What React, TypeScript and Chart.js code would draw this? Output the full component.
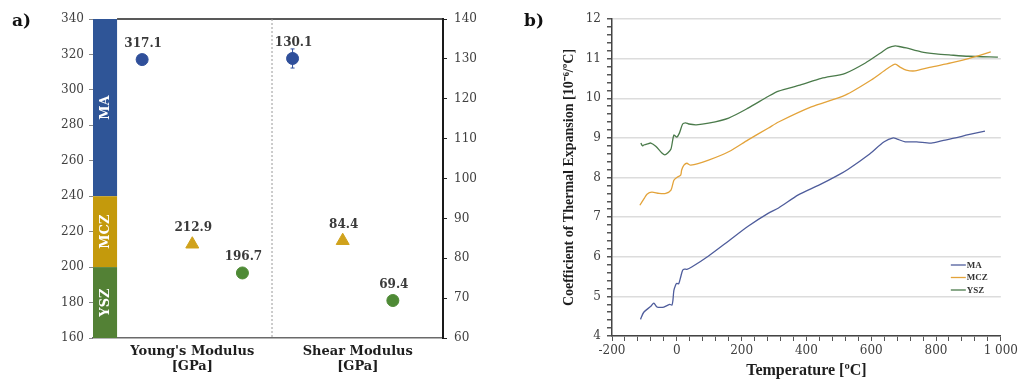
import React, { useEffect, useRef } from 'react';
import { Chart, registerables } from 'chart.js';

Chart.register(...registerables);

// ---------- Panel a data ----------
const materials = ['MA', 'MCZ', 'YSZ'];
const bandColors = ['#2F5597', '#C49A0C', '#538135'];
const markerColors = ['#2F4F9A', '#D0A21C', '#4E8A35'];
const bandFrom = [240, 200, 160];
const bandTo = [340, 240, 200];
const youngValues = [317.1, 212.9, 196.7];
const shearValues = [130.1, 84.4, 69.4];
const youngErr = [0, 0, 0];
const shearErr = [2.4, 0, 0];
const youngPos = [0.5, 1.5, 2.5];
const shearPos = [3.5, 4.5, 5.5];
const dividerPos = 3.09;
const groupLabelPos = [1.5, 4.8];
const groupLabels = [["Young's Modulus", '[GPa]'], ['Shear Modulus', '[GPa]']];
const pointStyles = ['circle', 'triangle', 'circle'];
const pointSizes = [6, 7.5, 6];

// ---------- Panel b data ----------
const maT = [-112, -102, -80, -71, -61, -50, -40, -22, -15, -12, -9, -3, 0, 6, 12, 18, 24, 31, 46, 98, 160, 220, 283, 314, 375, 437, 498, 529, 591, 640, 668, 680, 705, 740, 785, 820, 860, 900, 951];
const maY = [4.42, 4.6, 4.75, 4.83, 4.73, 4.72, 4.73, 4.8, 4.78, 4.9, 5.15, 5.3, 5.33, 5.32, 5.49, 5.66, 5.69, 5.68, 5.74, 6.02, 6.4, 6.77, 7.1, 7.23, 7.56, 7.8, 8.06, 8.21, 8.57, 8.9, 9.0, 8.97, 8.9, 8.9, 8.87, 8.93, 9.0, 9.08, 9.17];
const mczT = [-114, -100, -92, -77, -55, -34, -18, -9, 0, 12, 15, 22, 31, 43, 98, 160, 220, 283, 314, 415, 520, 600, 650, 674, 690, 708, 735, 780, 846, 900, 969];
const mczY = [7.3, 7.48, 7.58, 7.63, 7.6, 7.6, 7.68, 7.93, 8.0, 8.06, 8.19, 8.31, 8.36, 8.31, 8.44, 8.65, 8.95, 9.25, 9.4, 9.78, 10.08, 10.46, 10.75, 10.86, 10.78, 10.71, 10.69, 10.78, 10.89, 11.0, 11.17];
const yszT = [-111, -106, -102, -90, -80, -65, -46, -37, -28, -18, -9, 0, 8, 18, 27, 37, 60, 98, 160, 220, 283, 314, 380, 446, 520, 582, 630, 652, 674, 690, 708, 754, 800, 846, 900, 991];
const yszY = [8.87, 8.8, 8.82, 8.85, 8.87, 8.79, 8.62, 8.57, 8.62, 8.72, 9.07, 9.02, 9.12, 9.35, 9.38, 9.35, 9.33, 9.37, 9.5, 9.75, 10.05, 10.18, 10.33, 10.5, 10.63, 10.89, 11.15, 11.27, 11.32, 11.3, 11.27, 11.17, 11.12, 11.09, 11.06, 11.04];
const seriesNames = ['MA', 'MCZ', 'YSZ'];
const lineColors = ['#4F5D9C', '#E3A33A', '#4B7B4B'];
const xMajor = [-200, 0, 200, 400, 600, 800, 1000];
const xMajorLabels = ['-200', '0', '200', '400', '600', '800', '1 000'];
const yMajor = [4, 5, 6, 7, 8, 9, 10, 11, 12];

const SERIF = "'DejaVu Serif', serif";
const SERIF2 = "'Liberation Serif', serif";

const panelAPlugin = {
  id: 'panelA',
  beforeDatasetsDraw(chart: any) {
    const { ctx, chartArea, scales } = chart;
    const xs = scales.x, ys = scales.y, ys2 = scales.y2;
    const x0 = xs.getPixelForValue(xs.min);
    const x1 = xs.getPixelForValue(0);
    ctx.save();
    for (let i = 0; i < materials.length; i++) {
      const yTop = ys.getPixelForValue(bandTo[i]);
      const yBot = ys.getPixelForValue(bandFrom[i]);
      ctx.fillStyle = bandColors[i];
      ctx.fillRect(x0, yTop, x1 - x0, yBot - yTop);
      ctx.save();
      ctx.translate((x0 + x1) / 2 + 1, (yTop + yBot) / 2);
      ctx.rotate(-Math.PI / 2);
      ctx.fillStyle = '#ffffff';
      ctx.font = `bold 13px ${SERIF}`;
      ctx.textAlign = 'center';
      ctx.textBaseline = 'middle';
      ctx.fillText(materials[i], 0, 0);
      ctx.restore();
    }
    ctx.strokeStyle = '#222';
    ctx.lineWidth = 1.5;
    ctx.beginPath();
    ctx.moveTo(x1, chartArea.top);
    ctx.lineTo(chartArea.right, chartArea.top);
    ctx.stroke();
    const xd = xs.getPixelForValue(dividerPos);
    ctx.strokeStyle = '#9a9a9a';
    ctx.lineWidth = 1;
    ctx.setLineDash([2, 2]);
    ctx.beginPath();
    ctx.moveTo(xd, chartArea.top);
    ctx.lineTo(xd, chartArea.bottom);
    ctx.stroke();
    ctx.setLineDash([]);
    const drawErr = (pos: number[], vals: number[], errs: number[], scale: any) => {
      for (let i = 0; i < vals.length; i++) {
        if (!errs[i]) continue;
        const px = xs.getPixelForValue(pos[i]);
        const yA = scale.getPixelForValue(vals[i] + errs[i]);
        const yB = scale.getPixelForValue(vals[i] - errs[i]);
        ctx.strokeStyle = markerColors[i];
        ctx.lineWidth = 1;
        ctx.beginPath();
        ctx.moveTo(px, yA); ctx.lineTo(px, yB);
        ctx.moveTo(px - 2, yA); ctx.lineTo(px + 2, yA);
        ctx.moveTo(px - 2, yB); ctx.lineTo(px + 2, yB);
        ctx.stroke();
      }
    };
    drawErr(youngPos, youngValues, youngErr, ys);
    drawErr(shearPos, shearValues, shearErr, ys2);
    ctx.restore();
  },
  afterDatasetsDraw(chart: any) {
    const { ctx, scales } = chart;
    const xs = scales.x;
    ctx.save();
    ctx.font = `bold 12px ${SERIF}`;
    ctx.fillStyle = '#3a3a3a';
    ctx.textAlign = 'center';
    ctx.textBaseline = 'middle';
    const draw = (pos: number[], vals: number[], scale: any) => {
      for (let i = 0; i < vals.length; i++) {
        const px = xs.getPixelForValue(pos[i]);
        const py = scale.getPixelForValue(vals[i]);
        ctx.fillText(vals[i].toFixed(1), px + 1, py - 16);
      }
    };
    draw(youngPos, youngValues, scales.y);
    draw(shearPos, shearValues, scales.y2);
    ctx.restore();
  },
};

const legendPlugin = {
  id: 'cteLegend',
  afterDatasetsDraw(chart: any) {
    const { ctx, chartArea } = chart;
    ctx.save();
    ctx.font = `bold 9px ${SERIF2}`;
    ctx.textBaseline = 'middle';
    ctx.textAlign = 'left';
    chart.data.datasets.forEach((ds: any, i: number) => {
      const y = chartArea.bottom - 71 + i * 12.5;
      const xl = chartArea.right - 50;
      ctx.strokeStyle = ds.borderColor;
      ctx.lineWidth = 1.3;
      ctx.beginPath();
      ctx.moveTo(xl, y);
      ctx.lineTo(xl + 15, y);
      ctx.stroke();
      ctx.fillStyle = '#333';
      ctx.fillText(ds.label, xl + 16, y + 0.5);
    });
    ctx.restore();
  },
};

const isInt = (v: number) => Math.abs(v - Math.round(v)) < 1e-6;

export default function App() {
  const refA = useRef<HTMLCanvasElement>(null);
  const refB = useRef<HTMLCanvasElement>(null);

  useEffect(() => {
    const tickFont = { family: SERIF, size: 12 };
    const pointDs = {
      pointStyle: pointStyles as any,
      pointRadius: pointSizes,
      pointBackgroundColor: markerColors,
      pointBorderColor: markerColors,
      pointBorderWidth: 1,
    };
    const chartA = new Chart(refA.current as HTMLCanvasElement, {
      type: 'scatter',
      data: {
        datasets: [
          {
            label: "Young's Modulus",
            data: youngPos.map((x, i) => ({ x, y: youngValues[i] })),
            yAxisID: 'y',
            ...pointDs,
          },
          {
            label: 'Shear Modulus',
            data: shearPos.map((x, i) => ({ x, y: shearValues[i] })),
            yAxisID: 'y2',
            ...pointDs,
          },
        ],
      },
      options: {
        animation: false,
        responsive: false,
        layout: { padding: { top: 19, left: 0, right: 0, bottom: 0 } },
        plugins: { legend: { display: false }, tooltip: { enabled: false } },
        scales: {
          x: {
            type: 'linear',
            min: -0.48,
            max: 6.5,
            grid: { display: false, drawTicks: false },
            border: { display: true, color: '#6a6a6a', width: 1.5 },
            afterBuildTicks: (s: any) => { s.ticks = groupLabelPos.map((v) => ({ value: v })); },
            ticks: {
              autoSkip: false,
              maxRotation: 0,
              padding: 6,
              color: '#1e1e1e',
              font: { family: SERIF, size: 13, weight: 'bold', lineHeight: 1.15 },
              callback: (_v: any, i: number) => groupLabels[i],
            },
            afterFit: (s: any) => { s.height = 42; },
          },
          y: {
            position: 'left',
            min: 160,
            max: 340,
            ticks: { stepSize: 20, color: '#404040', font: tickFont, padding: 5 },
            grid: { drawOnChartArea: false, tickLength: 4, color: '#888' },
            border: { display: false },
            afterFit: (s: any) => { s.width = 93; },
          },
          y2: {
            position: 'right',
            min: 60,
            max: 140,
            ticks: { stepSize: 10, color: '#404040', font: tickFont, padding: 7 },
            grid: { drawOnChartArea: false, tickLength: 4, color: '#222' },
            border: { display: true, color: '#1a1a1a', width: 2 },
            afterFit: (s: any) => { s.width = 62; },
          },
        },
      } as any,
      plugins: [panelAPlugin],
    });

    const mk = (T: number[], Y: number[]) => T.map((t, i) => ({ x: t, y: Y[i] }));
    const chartB = new Chart(refB.current as HTMLCanvasElement, {
      type: 'line',
      data: {
        datasets: [
          { label: seriesNames[0], data: mk(maT, maY), borderColor: lineColors[0] },
          { label: seriesNames[1], data: mk(mczT, mczY), borderColor: lineColors[1] },
          { label: seriesNames[2], data: mk(yszT, yszY), borderColor: lineColors[2] },
        ].map((d) => ({ ...d, borderWidth: 1.3, pointRadius: 0, tension: 0.25, fill: false })),
      },
      options: {
        animation: false,
        responsive: false,
        layout: { padding: { top: 19, left: 48, right: 18, bottom: 0 } },
        plugins: { legend: { display: false }, tooltip: { enabled: false } },
        scales: {
          x: {
            type: 'linear',
            min: -200,
            max: 1000,
            ticks: {
              stepSize: 40,
              autoSkip: false,
              maxRotation: 0,
              padding: 3,
              color: '#404040',
              font: tickFont,
              callback: (v: any) => {
                const idx = xMajor.indexOf(Math.round(v));
                return idx >= 0 && isInt(v) ? xMajorLabels[idx] : '';
              },
            },
            grid: { drawOnChartArea: false, tickLength: 5, color: '#555' },
            border: { display: true, color: '#444', width: 1.5 },
            title: {
              display: true,
              text: 'Temperature [ºC]',
              color: '#1e1e1e',
              font: { family: SERIF2, size: 16, weight: 'bold' },
              padding: { top: 0, bottom: 0 },
            },
            afterFit: (s: any) => { s.height = 44; },
          },
          y: {
            min: 4,
            max: 12,
            ticks: {
              stepSize: 0.2,
              autoSkip: false,
              padding: 6,
              color: '#404040',
              font: tickFont,
              callback: (v: any) => (isInt(v) && yMajor.includes(Math.round(v)) ? String(Math.round(v)) : ''),
            },
            grid: {
              tickLength: 5,
              lineWidth: 1.5,
              color: (c: any) => (c.tick && isInt(c.tick.value) ? '#dcdcdc' : 'rgba(0,0,0,0)'),
              tickColor: '#555',
            },
            border: { display: true, color: '#444', width: 1.5 },
            title: {
              display: true,
              text: 'Coefficient of Thermal Expansion [10⁻⁶/ºC]',
              color: '#1e1e1e',
              font: { family: SERIF2, size: 14, weight: 'bold' },
              padding: { top: 3, bottom: 0 },
            },
            afterFit: (s: any) => { s.width = 54; },
          },
        },
      } as any,
      plugins: [legendPlugin],
    });

    return () => {
      chartA.destroy();
      chartB.destroy();
    };
  }, []);

  const panelLabel: React.CSSProperties = {
    position: 'absolute',
    fontFamily: SERIF,
    fontWeight: 'bold',
    fontSize: 17,
    color: '#111',
  };

  return (
    <div style={{ position: 'absolute', left: 0, top: 0, width: 1021, height: 380, background: '#fff', overflow: 'hidden' }}>
      <canvas ref={refA} width={505} height={380} style={{ position: 'absolute', left: 0, top: 0 }} />
      <canvas ref={refB} width={511} height={380} style={{ position: 'absolute', left: 510, top: 0 }} />
      <div style={{ ...panelLabel, left: 12, top: 10 }}>a)</div>
      <div style={{ ...panelLabel, left: 524, top: 10 }}>b)</div>
    </div>
  );
}
